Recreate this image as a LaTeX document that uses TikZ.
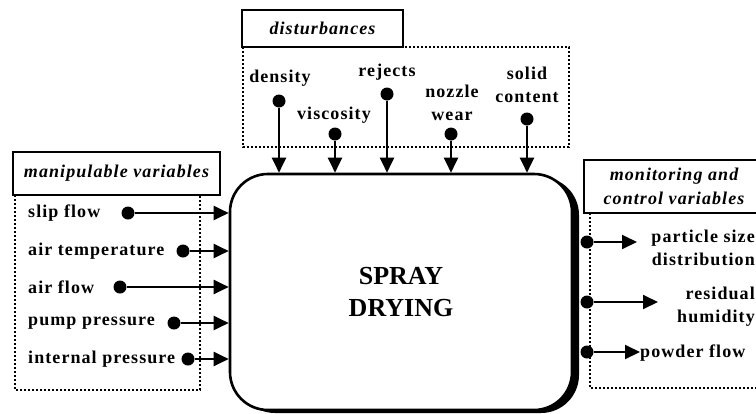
\documentclass[tikz,border=0pt]{standalone}
\usepackage{fontspec}
\setmainfont{Liberation Serif}
\newfontfamily\lblfont{Liberation Serif}[LetterSpace=6]
\usetikzlibrary{arrows.meta,shadows}

\begin{document}
\begin{tikzpicture}[x=1pt, y=-1pt,
    lbl/.style={font=\lblfont\fontsize{18}{23}\selectfont\bfseries, inner sep=0pt, align=center},
    hdr/.style={draw, line width=2pt, inner sep=0pt, align=center, font=\lblfont\fontsize{18}{24}\selectfont\bfseries\itshape},
    grp/.style={line width=2pt, dash pattern=on 2.2pt off 1.8pt},
    dot/.style={circle, fill=black, inner sep=0pt, minimum size=13pt},
    arr/.style={-{Triangle[length=15pt, width=14pt]}, line width=2pt},
    proc/.style={draw, line width=2.6pt, fill=white, rounded corners=38pt, align=center,
        minimum width=342pt, minimum height=236pt, inner sep=0pt,
        font=\fontsize{26}{32}\selectfont\bfseries,
        drop shadow={shadow xshift=7pt, shadow yshift=-3pt, opacity=1, fill=black}}
]
\useasboundingbox (0,0) rectangle (756,413);

% main process block
\node[proc] (box) at (401,292) {SPRAY\\DRYING};

% group frames
\draw[grp] (15,195) rectangle (200,390);
\draw[grp] (243,47) rectangle (569,147);
\draw[grp] (590,213) rectangle (762,388);
\node[hdr, minimum width=207pt, minimum height=43pt] (hman) at (116.5,173.5) {manipulable variables};
\node[hdr, minimum width=161pt, minimum height=37pt] (hdis) at (322.5,28.5) {disturbances};
\node[hdr, minimum width=180pt, minimum height=53pt] (hmon) at (674,186.5) {monitoring and\\control variables};

% manipulable variables
\node[lbl, anchor=west] (tslip) at (28,213) {slip flow};
\node[lbl, anchor=west] (tairt) at (28,251) {air temperature};
\node[lbl, anchor=west] (tairf) at (28,287) {air flow};
\node[lbl, anchor=west] (tpump) at (28,323) {pump pressure};
\node[lbl, anchor=west] (tint) at (28,359) {internal pressure};
\node[dot] (slip) at (128,213) {};
\node[dot] (airt) at (183,251) {};
\node[dot] (airf) at (120,287) {};
\node[dot] (pump) at (174,323) {};
\node[dot] (int) at (188,359) {};
\foreach \n in {slip,airt,airf,pump,int}
    \draw[arr] (\n) -- (\n -| box.west);

% disturbances
\node[lbl] (tdens) at (280,78) {density};
\node[lbl] (tvisc) at (334,115) {viscosity};
\node[lbl] (trej) at (387,72) {rejects};
\node[lbl] (tnoz) at (452,103) {nozzle\\wear};
\node[lbl] (tsol) at (527,85) {solid\\content};
\node[dot] (dens) at (279,101) {};
\node[dot] (visc) at (335,134) {};
\node[dot] (rej) at (387,94) {};
\node[dot] (noz) at (451,134) {};
\node[dot] (sol) at (527,119) {};
\foreach \n in {dens,visc,rej,noz,sol}
    \draw[arr] (\n) -- (\n |- box.north);

% monitoring and control variables
\node[dot] (psd) at (587,242) {};
\node[dot] (hum) at (587,302) {};
\node[dot] (pow) at (587,352) {};
\coordinate (psdend) at (637,242);
\coordinate (humend) at (658,302);
\coordinate (powend) at (640,352);
\draw[arr] (psd) -- (psdend);
\draw[arr] (hum) -- (humend);
\draw[arr] (pow) -- (powend);
\node[lbl, anchor=east, align=right] (tpsd) at (755,248) {particle size\\distribution};
\node[lbl, anchor=east, align=right] (thum) at (755,307) {residual\\humidity};
\node[lbl, anchor=west] (tpow) at (640,353) {powder flow};
\end{tikzpicture}
\end{document}
